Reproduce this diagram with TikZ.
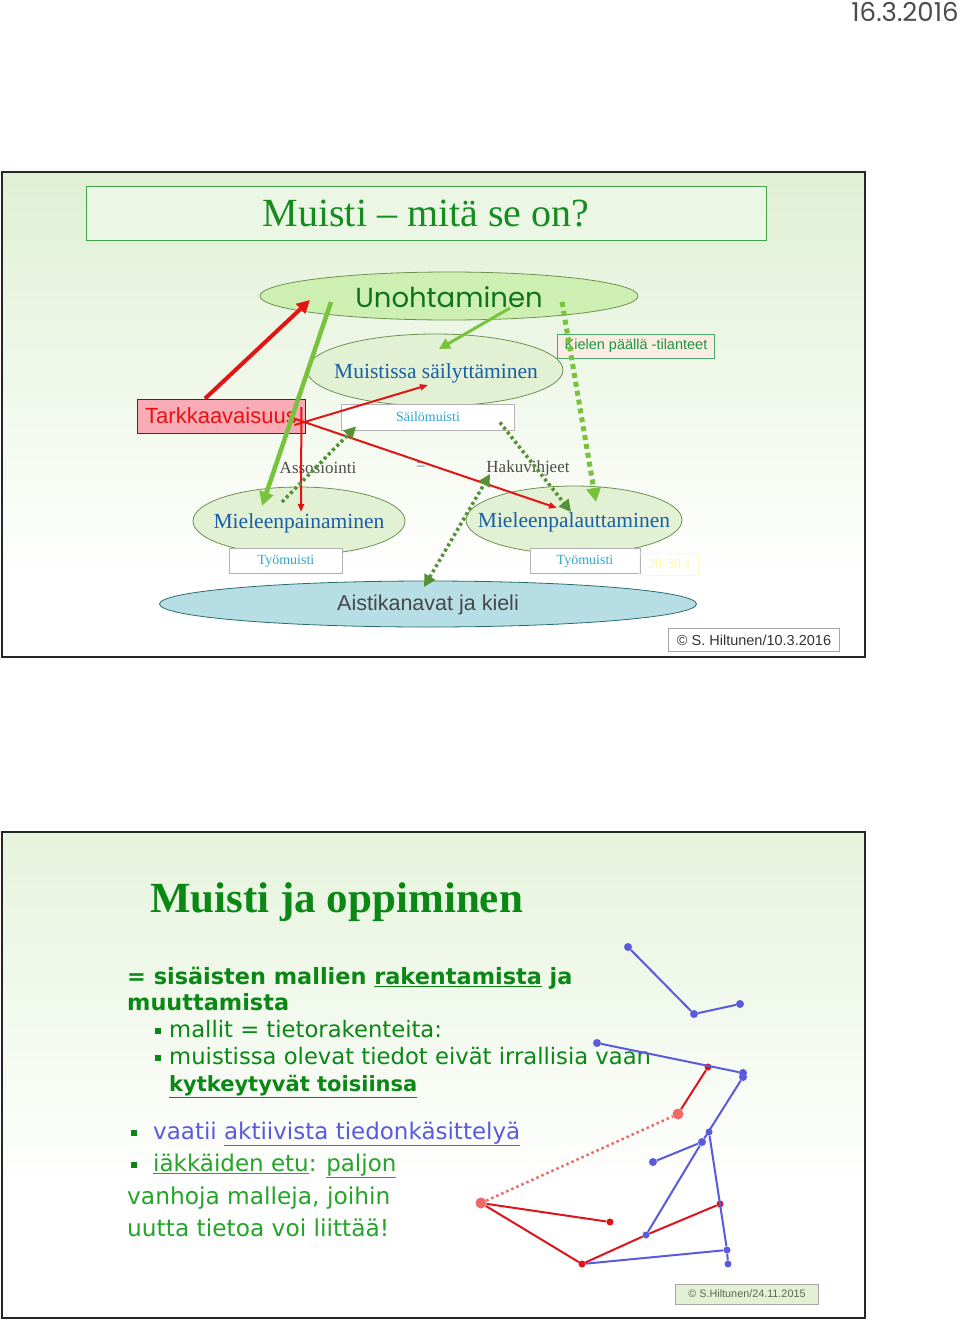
\documentclass[tikz,border=0pt]{standalone}
\usepackage{fontspec}
\setmainfont{Liberation Serif}
\newfontfamily\arialf{Liberation Sans}
\newfontfamily\verdf{DejaVu Sans}
\newfontfamily\gothf{Poppins}
\usetikzlibrary{shapes.geometric,arrows.meta}
\definecolor{ttlgreen}{RGB}{20,140,30}
\definecolor{unohgreen}{RGB}{15,115,25}
\definecolor{ellblue}{RGB}{25,95,165}
\definecolor{ltblue}{RGB}{45,165,210}
\definecolor{arrred}{RGB}{228,20,20}
\definecolor{ltgreen}{RGB}{120,195,60}
\definecolor{dkgreen}{RGB}{85,145,55}
\definecolor{ellfill}{RGB}{226,240,212}
\definecolor{ellline}{RGB}{110,145,80}
\definecolor{unohfill}{RGB}{205,240,178}
\definecolor{slidegreen}{RGB}{224,240,212}
\definecolor{pinkfill}{RGB}{250,172,182}
\definecolor{peach}{RGB}{252,236,226}
\definecolor{kielgreen}{RGB}{25,150,70}
\definecolor{aistfill}{RGB}{182,222,228}
\definecolor{aistline}{RGB}{40,110,110}
\definecolor{netblue}{RGB}{90,90,222}
\definecolor{netred}{RGB}{222,20,28}
\definecolor{netpink}{RGB}{240,105,105}
\definecolor{s2green}{RGB}{10,135,20}
\definecolor{s2ltgreen}{RGB}{35,165,40}
\definecolor{copyfill}{RGB}{226,240,212}
\definecolor{copytext}{RGB}{95,105,75}
\newcommand\fsz[1]{\fontsize{#1pt}{#1pt}\selectfont}
\newcommand\sqb{\raisebox{3.5pt}{\rule{5.5pt}{5.5pt}}}
\tikzset{
  slideframe/.style={draw=black!85,line width=2pt},
  ell/.style={ellipse,draw=ellline,fill=ellfill,line width=0.8pt,inner sep=0pt},
  membox/.style={draw=black!30,fill=white,line width=0.8pt,inner sep=0pt,text=ltblue,font=\fsz{14}},
  redthick/.style={draw=arrred,line width=4pt,-{Triangle[length=13pt,width=13pt]}},
  redthin/.style={draw=arrred,line width=2pt,-{Triangle[length=8pt,width=6pt]}},
  greenthick/.style={draw=ltgreen,line width=4.5pt,-{Triangle[length=14pt,width=14pt]}},
  greenmid/.style={draw=ltgreen,line width=3pt,-{Triangle[length=11pt,width=11pt]}},
  dkdots/.style={draw=dkgreen,line width=3.5pt,dash pattern=on 3pt off 3pt,-{Triangle[length=12pt,width=12pt]}},
  ltdots/.style={draw=ltgreen,line width=5pt,dash pattern=on 5pt off 4pt,-{Triangle[length=14pt,width=14pt]}},
  bl/.style={draw=netblue,line width=2pt},
  rl/.style={draw=netred,line width=2pt},
  bdot/.style={circle,fill=netblue,inner sep=0pt,minimum size=8pt},
  rdot/.style={circle,fill=netred,inner sep=0pt,minimum size=7pt},
  pdot/.style={circle,fill=netpink,inner sep=0pt,minimum size=11pt},
  txt/.style={inner sep=0pt,anchor=base west},
}
\begin{document}
\begin{tikzpicture}[x=1pt,y=-1pt]
\useasboundingbox (0,0) rectangle (960,1320);
\fill[white] (0,0) rectangle (960,1320);
% header date
\node[inner sep=0pt,text=black!70,font=\gothf\fsz{26}] (date) at (905,12) {16.3.2016};

% ================= SLIDE 1 =================
\fill[white] (2,172) rectangle (865,657);
\shade[top color=slidegreen,bottom color=white] (3,173) rectangle (864,575);
\draw[slideframe] (2,172) rectangle (865,657);
\node[draw=ttlgreen!80,line width=0.8pt,fill=slidegreen!60,minimum width=680pt,minimum height=54pt,inner sep=0pt] (ttlbox) at (426,213) {};
\node[inner sep=0pt,text=ttlgreen,font=\fsz{40}] (ttl) at (426,214) {Muisti – mitä se on?};

\node[ellipse,draw=ellline,fill=unohfill,line width=0.8pt,minimum width=378pt,minimum height=48pt,inner sep=0pt] (unoh) at (449,296) {};
\node[inner sep=0pt,text=unohgreen,font=\gothf\fsz{27.5}] (unohtxt) at (449,297) {Unohtaminen};

\node[ell,minimum width=256pt,minimum height=72pt] (sail) at (435,370) {};
\node[inner sep=0pt,text=ellblue,font=\fsz{21.5}] (sailtxt) at (436,373) {Muistissa säilyttäminen};
\node[membox,minimum width=173pt,minimum height=26pt] (somu) at (428,417) {Säilömuisti};

\node[draw=red!65!black,fill=pinkfill,line width=0.8pt,minimum width=168pt,minimum height=34pt,inner sep=0pt,text=arrred,font=\arialf\fsz{22}] (tark) at (221,416) {Tarkkaavaisuus};

\node[draw=kielgreen!80,fill=peach,line width=0.8pt,minimum width=157pt,minimum height=24pt,inner sep=0pt,text=kielgreen,font=\arialf\fsz{14.5}] (kiel) at (636,346) {Kielen päällä -tilanteet};

\node[ell,minimum width=212pt,minimum height=68pt] (mpain) at (299,521) {};
\node[inner sep=0pt,text=ellblue,font=\fsz{21.5}] (mpaintxt) at (299,523) {Mieleenpainaminen};
\node[ell,minimum width=216pt,minimum height=68pt] (mpal) at (574,520) {};
\node[inner sep=0pt,text=ellblue,font=\fsz{21.5}] (mpaltxt) at (574,522) {Mieleenpalauttaminen};

\node[membox,minimum width=113pt,minimum height=25pt] (tm1) at (286,561) {Työmuisti};
\node[membox,minimum width=110pt,minimum height=25pt] (tm2) at (585,561) {Työmuisti};
\node[draw=yellow!25,line width=0.8pt,minimum width=59pt,minimum height=22pt,inner sep=0pt,text=yellow!35,font=\fsz{14}] (sek) at (669,564) {20-30 s};

\node[ellipse,draw=aistline,fill=aistfill,line width=0.8pt,minimum width=537pt,minimum height=46pt,inner sep=0pt] (aist) at (428,604) {};
\node[inner sep=0pt,text=black!72,font=\arialf\fsz{21.5}] (aisttxt) at (428,605) {Aistikanavat ja kieli};

\node[inner sep=0pt,text=black!70,font=\fsz{17}] (asso) at (318,468) {Assosiointi};
\node[inner sep=0pt,text=black!50,font=\fsz{17}] (eq) at (421,467) {=};
\node[inner sep=0pt,text=black!70,font=\fsz{17}] (haku) at (528,468) {Hakuvihjeet};

\node[draw=black!35,fill=white,line width=0.8pt,minimum width=171pt,minimum height=23pt,inner sep=0pt,text=black!80,font=\arialf\fsz{14.5}] (copy1) at (754,640) {© S. Hiltunen/10.3.2016};

% connectors slide 1
\coordinate (c1) at (310,300);
\draw[redthick] ([xshift=-16pt]tark.north) -- (c1);
\coordinate (c2s) at (331,302);
\coordinate (c2e) at (262,506);
\draw[greenthick] (c2s) -- (c2e);
\coordinate (c3s) at (510,308);
\coordinate (c3e) at (439,349);
\draw[greenmid] (c3s) -- (c3e);
\coordinate (c4e) at (428,385);
\draw[redthin] ([xshift=-11pt,yshift=-9pt]tark.east) -- (c4e);
\coordinate (c5e) at (557,508);
\draw[redthin] ([xshift=-10pt,yshift=-3pt]tark.east) -- (c5e);
\coordinate (c6e) at (301,512);
\draw[redthin] ([xshift=-4pt,yshift=9pt]tark.east) -- (c6e);
\coordinate (d1s) at (282,502);
\draw[dkdots] (d1s) -- ([xshift=15pt,yshift=4pt]somu.south west);
\coordinate (d2e) at (571,512);
\draw[dkdots] ([xshift=-15pt,yshift=8pt]somu.south east) -- (d2e);
\coordinate (d3s) at (424,587);
\coordinate (d3e) at (490,474);
\draw[dkdots,{Triangle[length=12pt,width=12pt]}-{Triangle[length=12pt,width=12pt]}] (d3s) -- (d3e);
\coordinate (l1s) at (562,302);
\coordinate (l1e) at (596,502);
\draw[ltdots] (l1s) -- (l1e);

% ================= SLIDE 2 =================
\fill[white] (2,832) rectangle (865,1318);
\shade[top color=slidegreen!80,bottom color=white] (3,833) rectangle (864,1190);
\draw[slideframe] (2,832) rectangle (865,1318);

\node[txt,text=s2green,font=\bfseries\fsz{43}] (ttl2) at (150,912) {Muisti ja oppiminen};
\node[txt,text=s2green,font=\verdf\bfseries\fsz{22.4}] (l1) at (127,984) {= sisäisten mallien \underline{rakentamista} ja};
\node[txt,text=s2green,font=\verdf\bfseries\fsz{22.4}] (l2) at (127,1010) {muuttamista};
\node[txt,text=s2green,font=\verdf\fsz{22}] (b3) at (155,1037) {\sqb};
\node[txt,text=s2green,font=\verdf\fsz{22.7}] (l3) at (169,1037) {mallit = tietorakenteita:};
\node[txt,text=s2green,font=\verdf\fsz{22}] (b4) at (155,1064) {\sqb};
\node[txt,text=s2green,font=\verdf\fsz{22.7}] (l4) at (169,1064) {muistissa olevat tiedot eivät irrallisia vaan};
\node[txt,text=s2green,font=\verdf\bfseries\fsz{21}] (l5) at (169,1091) {\underline{kytkeytyvät toisiinsa}};
\node[txt,text=s2green,font=\verdf\fsz{22}] (b1) at (131,1139) {\sqb};
\node[txt,text=netblue,font=\verdf\fsz{23}] (l6) at (153,1139) {vaatii \underline{aktiivista tiedonkäsittelyä}};
\node[txt,text=s2green,font=\verdf\fsz{22}] (b2) at (131,1171) {\sqb};
\node[txt,text=s2ltgreen,font=\verdf\fsz{23}] (l7) at (153,1171) {\underline{iäkkäiden etu}: \underline{paljon}};
\node[txt,text=s2ltgreen,font=\verdf\fsz{23.3}] (l8) at (127,1204) {vanhoja malleja, joihin};
\node[txt,text=s2ltgreen,font=\verdf\fsz{23.3}] (l9) at (127,1236) {uutta tietoa voi liittää!};

% network
\node[bdot] (n1) at (628,947) {};
\node[bdot] (n2) at (694,1014) {};
\node[bdot] (n3) at (740,1004) {};
\node[bdot] (n4) at (597,1043) {};
\node[bdot] (n5) at (743,1073) {};
\node[bdot] (n5b) at (743,1077) {};
\node[bdot,minimum size=7pt] (n6) at (709,1132) {};
\node[bdot] (n7) at (702,1142) {};
\node[bdot] (n8) at (653,1162) {};
\node[bdot,minimum size=7pt] (n9) at (646,1235) {};
\node[bdot,minimum size=7pt] (n10) at (727,1250) {};
\node[bdot,minimum size=7pt] (n11) at (728,1264) {};
\node[rdot] (r1) at (708,1067) {};
\node[pdot] (p1) at (678,1114) {};
\node[pdot] (p2) at (481,1203) {};
\node[rdot] (r2) at (610,1222) {};
\node[rdot] (r3) at (582,1264) {};
\node[rdot] (r4) at (720,1204) {};

\draw[bl] (n1) -- (n2) -- (n3);
\draw[bl] (n4) -- (n5);
\draw[bl] (n5b) -- (n7) -- (n9);
\draw[bl] (n8) -- (n7);
\draw[bl] (n6) -- (n10) -- (n11);
\draw[bl] (r3) -- (n10);
\draw[rl] (p2) -- (r2);
\draw[rl] (p2) -- (r3) -- (n9) -- (r4);
\draw[rl] (p1) -- (r1);
\draw[draw=netpink,line width=2.5pt,dash pattern=on 2.5pt off 3pt] (p2) -- (p1);

\node[draw=black!35,fill=copyfill,line width=0.8pt,minimum width=143pt,minimum height=20pt,inner sep=0pt,text=copytext,font=\arialf\fsz{10.8}] (copy2) at (747,1294) {© S.Hiltunen/24.11.2015};
\end{tikzpicture}
\end{document}
